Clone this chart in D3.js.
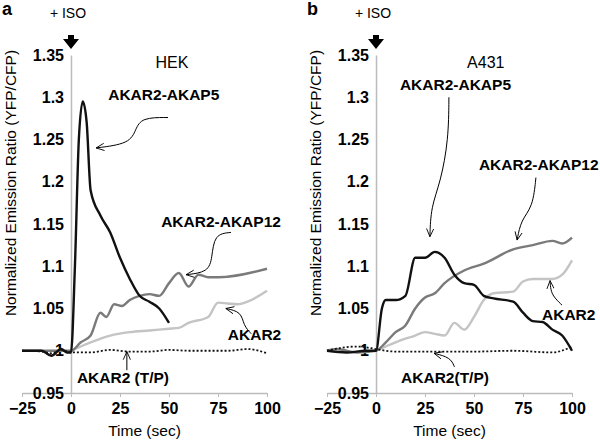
<!DOCTYPE html>
<html>
<head>
<meta charset="utf-8">
<script src="https://cdn.jsdelivr.net/npm/d3@7"></script>
<style>
  body { margin: 0; background: #fff; }
  text { font-family: Arial, "Liberation Sans", sans-serif; }
</style>
</head>
<body>
<svg id="chart" width="600" height="441"></svg>
<script>
var svg = d3.select("#chart");

// arrowhead marker
var defs = svg.append("defs");
defs.append("marker").attr("id", "head").attr("viewBox", "0 0 10 10")
  .attr("refX", 9).attr("refY", 5).attr("markerWidth", 9).attr("markerHeight", 9)
  .attr("orient", "auto-start-reverse").attr("markerUnits", "userSpaceOnUse")
  .append("path").attr("d", "M0,1 L9,5 L0,9").attr("fill", "none").attr("stroke", "#000").attr("stroke-width", 1);

var panels = [
  {
    letter: "a", x0: 22, cell: "HEK", cellPos: [51.5, 1.335],
    series: {
      akap5: [[-25,1],[-15,1],[-10,0.994],[-5,1.002],[-2,0.998],[0,0.998],[2,1.1],[4,1.25],[6,1.295],[8,1.27],[10,1.19],[15,1.16],[20,1.14],[25,1.11],[30,1.085],[35,1.065],[40,1.058],[45,1.05],[50,1.033]],
      akap12: [[-25,1],[-10,1],[0,1],[5,1.01],[10,1.018],[15,1.045],[18,1.04],[22,1.055],[26,1.053],[30,1.06],[35,1.065],[40,1.067],[45,1.065],[50,1.08],[55,1.092],[60,1.076],[65,1.09],[70,1.087],[75,1.087],[100,1.097]],
      akar2: [[0,1],[10,1.01],[20,1.018],[30,1.022],[40,1.024],[50,1.026],[55,1.027],[60,1.033],[70,1.04],[75,1.057],[80,1.056],[85,1.055],[90,1.058],[100,1.071]],
      tp: [[-25,1],[-15,0.999],[-10,0.997],[-5,1.001],[0,0.998],[10,0.998],[20,1.001],[30,0.999],[40,0.999],[50,1.001],[60,1],[70,1],[80,1],[90,1.002],[100,0.997]]
    },
    labels: [
      {t: "AKAR2-AKAP5", x: 19, y: 1.297, arrow: [[49.5,1.276],[36,1.276],[33,1.262],[30,1.245],[12.8,1.24]]},
      {t: "AKAR2-AKAP12", x: 46, y: 1.146, arrow: [[81.6,1.14],[73,1.138],[72,1.11],[70,1.093],[58.7,1.09]]},
      {t: "AKAR2", x: 80, y: 1.013, arrow: [[92,1.02],[88,1.03],[87,1.046],[79,1.05]]},
      {t: "AKAR2 (T/P)", x: 3, y: 0.962, arrow: [[28.5,0.977],[28.5,0.999]]}
    ]
  },
  {
    letter: "b", x0: 327, cell: "A431", cellPos: [56, 1.335],
    series: {
      akap5: [[-25,1],[-15,0.998],[-5,1],[0,1],[3,1.05],[5,1.06],[10,1.06],[15,1.065],[20,1.11],[25,1.11],[30,1.117],[35,1.11],[40,1.09],[45,1.08],[50,1.078],[55,1.065],[60,1.062],[70,1.058],[75,1.045],[80,1.035],[85,1.034],[90,1.025],[95,1.018],[100,1]],
      akap12: [[-25,1],[-20,1.002],[-10,0.998],[0,1],[5,1.01],[10,1.022],[15,1.03],[20,1.05],[25,1.063],[30,1.068],[35,1.08],[45,1.095],[55,1.103],[70,1.12],[80,1.125],[90,1.13],[95,1.127],[100,1.134]],
      akar2: [[0,1],[10,1.01],[20,1.018],[25,1.022],[30,1.02],[35,1.018],[40,1.033],[45,1.025],[50,1.04],[55,1.06],[60,1.068],[70,1.07],[75,1.082],[80,1.085],[90,1.085],[95,1.09],[100,1.107]],
      tp: [[-25,1],[-10,1.005],[0,1.002],[5,1],[10,0.999],[30,0.999],[50,0.999],[70,1],[90,0.998],[100,1.005]]
    },
    labels: [
      {t: "AKAR2-AKAP5", x: 12.2, y: 1.309, arrow: [[37.2,1.3],[37,1.25],[33,1.2],[28,1.17],[27.5,1.135]]},
      {t: "AKAR2-AKAP12", x: 52.5, y: 1.214, arrow: [[81.6,1.205],[80,1.17],[74,1.155],[72,1.131]]},
      {t: "AKAR2", x: 84.7, y: 1.036, arrow: [[94.9,1.054],[90,1.065],[89,1.075],[88.8,1.083]]},
      {t: "AKAR2(T/P)", x: 12.8, y: 0.962, arrow: [[40,0.981],[38,0.992],[29.6,0.997]]}
    ]
  }
];

var colors = {akap5: "#111", akap12: "#7a7a7a", akar2: "#c4c4c4", tp: "#111"};

panels.forEach(function(p) {
  var x = d3.scaleLinear().domain([-25, 100]).range([p.x0, p.x0 + 245]);
  var y = d3.scaleLinear().domain([0.95, 1.35]).range([393, 55]);
  var g = svg.append("g");

  // x axis
  var xa = g.append("g").attr("transform", "translate(0," + y(0.95) + ")")
    .call(d3.axisBottom(x).tickValues([-25, 0, 25, 50, 75, 100]).tickSize(4).tickSizeOuter(0));
  xa.select(".domain").attr("stroke", "#bbb").attr("stroke-width", 1.5);
  xa.selectAll(".tick line").attr("stroke", "#bbb");
  xa.selectAll("text").attr("font-size", 16).attr("font-weight", "bold").attr("fill", "#000").attr("dy", "0.9em");

  // y axis at x = 0
  var ya = g.append("g").attr("transform", "translate(" + x(0) + ",0)")
    .call(d3.axisLeft(y).tickValues([0.95, 1, 1.05, 1.1, 1.15, 1.2, 1.25, 1.3, 1.35]).tickFormat(d3.format("")).tickSize(0).tickPadding(7));
  ya.select(".domain").attr("stroke", "#bbb").attr("stroke-width", 1.5);
  ya.selectAll("text").attr("font-size", 16).attr("font-weight", "bold").attr("fill", "#000");

  // y title
  g.append("text").attr("transform", "translate(" + (p.x0 - 6) + ",183) rotate(-90)")
    .attr("text-anchor", "middle").attr("font-size", 15.5).text("Normalized Emission Ratio (YFP/CFP)");
  g.append("text").attr("x", x(37.5)).attr("y", 436).attr("text-anchor", "middle")
    .attr("font-size", 15.5).text("Time (sec)");

  // panel letter, ISO
  g.append("text").attr("x", p.x0 - 20).attr("y", 15).attr("font-size", 18).attr("font-weight", "bold").text(p.letter);
  g.append("text").attr("x", x(0) - 3).attr("y", 18).attr("text-anchor", "middle").attr("font-size", 14).text("+ ISO");
  g.append("path").attr("d", "M" + (x(0) - 8) + ",39 h5 v-4 h6 v4 h5 l-8,10 z").attr("fill", "#000");
  g.append("text").attr("x", x(p.cellPos[0])).attr("y", y(p.cellPos[1])).attr("text-anchor", "middle")
    .attr("font-size", 16).text(p.cell);

  var line = d3.line().x(d => x(d[0])).y(d => y(d[1])).curve(d3.curveMonotoneX);
  ["akar2", "akap12", "tp", "akap5"].forEach(function(k) {
    g.append("path").datum(p.series[k]).attr("d", line).attr("fill", "none")
      .attr("stroke", colors[k]).attr("stroke-width", k == "tp" ? 1.8 : 2.4)
      .attr("stroke-dasharray", k == "tp" ? "2,2" : null);
  });

  var aline = d3.line().x(d => x(d[0])).y(d => y(d[1])).curve(d3.curveBasis);
  p.labels.forEach(function(l) {
    g.append("text").attr("x", x(l.x)).attr("y", y(l.y)).attr("font-size", 15.5)
      .attr("font-weight", "bold").text(l.t);
    g.append("path").datum(l.arrow).attr("d", aline).attr("fill", "none")
      .attr("stroke", "#000").attr("stroke-width", 1).attr("marker-end", "url(#head)");
  });
});
</script>
</body>
</html>
